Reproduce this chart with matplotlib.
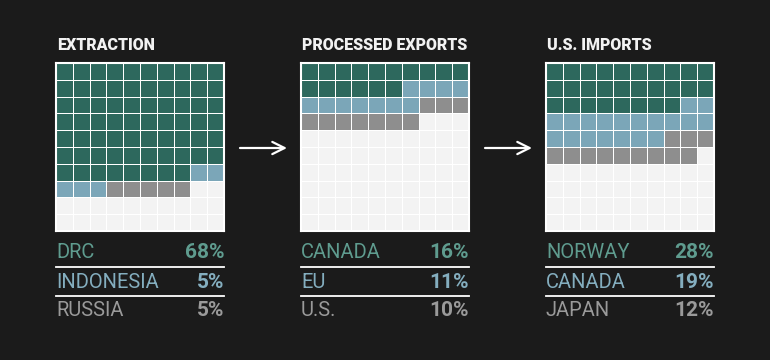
import numpy as np
import matplotlib.pyplot as plt
from matplotlib.colors import ListedColormap

titles = ['EXTRACTION', 'PROCESSED EXPORTS', 'U.S. IMPORTS']
names = [['DRC', 'INDONESIA', 'RUSSIA'],
         ['CANADA', 'EU', 'U.S.'],
         ['NORWAY', 'CANADA', 'JAPAN']]
shares = [[68, 5, 5],
          [16, 11, 10],
          [28, 19, 12]]

bg = '#1b1b1b'
cell_colors = ['#2d685d', '#7ba6b8', '#8e8e8e', '#f3f3f3']
text_colors = ['#5f9c8f', '#84aebf', '#9a9a9a']

W, H = 770, 360
fig = plt.figure(figsize=(W / 100, H / 100), dpi=100, facecolor=bg)
plt.rcParams['font.family'] = ['Roboto', 'DejaVu Sans']

# overlay axes in pixel units for text, rules and arrows
over = fig.add_axes([0, 0, 1, 1])
over.set_xlim(0, W)
over.set_ylim(H, 0)
over.axis('off')
over.set_zorder(2)
over.patch.set_alpha(0)

left = [56, 301, 546]
top, size = 63, 168
cmap = ListedColormap(cell_colors)

for k in range(3):
    # build 10x10 waffle, filled row by row from top-left
    cells = np.full(100, 3)
    pos = 0
    for i, v in enumerate(shares[k]):
        cells[pos:pos + v] = i
        pos += v
    grid = cells.reshape(10, 10)

    ax = fig.add_axes([left[k] / W, 1 - (top + size) / H, size / W, size / H])
    ax.pcolormesh(grid, cmap=cmap, vmin=-0.5, vmax=3.5,
                  edgecolors='white', linewidth=0.6)
    ax.set_xlim(0, 10)
    ax.set_ylim(10, 0)
    ax.set_xticks([])
    ax.set_yticks([])
    for s in ax.spines.values():
        s.set_color('white')
        s.set_linewidth(1.5)

    x0 = left[k]
    over.text(x0 + 1, 45, titles[k], color='#f2f2f2', fontsize=11.5,
              fontweight='heavy', va='center', ha='left')

    for i in range(3):
        y = 253 + i * 29
        over.text(x0, y, names[k][i], color=text_colors[i], fontsize=14.5,
                  va='center', ha='left')
        over.text(x0 + size, y, f'{shares[k][i]}%', color=text_colors[i],
                  fontsize=15, fontweight='bold', va='center', ha='right')
        if i < 2:
            over.plot([x0, x0 + size], [y + 14, y + 14], color='white', lw=1.3)

# arrows between grids
for xa in [240, 485]:
    over.annotate('', xy=(xa + 47, 148), xytext=(xa, 148),
                  arrowprops=dict(arrowstyle='->', color='white', lw=1.6,
                                  mutation_scale=22, shrinkA=0, shrinkB=0))

fig.savefig('out.png', dpi=100, facecolor=bg)
